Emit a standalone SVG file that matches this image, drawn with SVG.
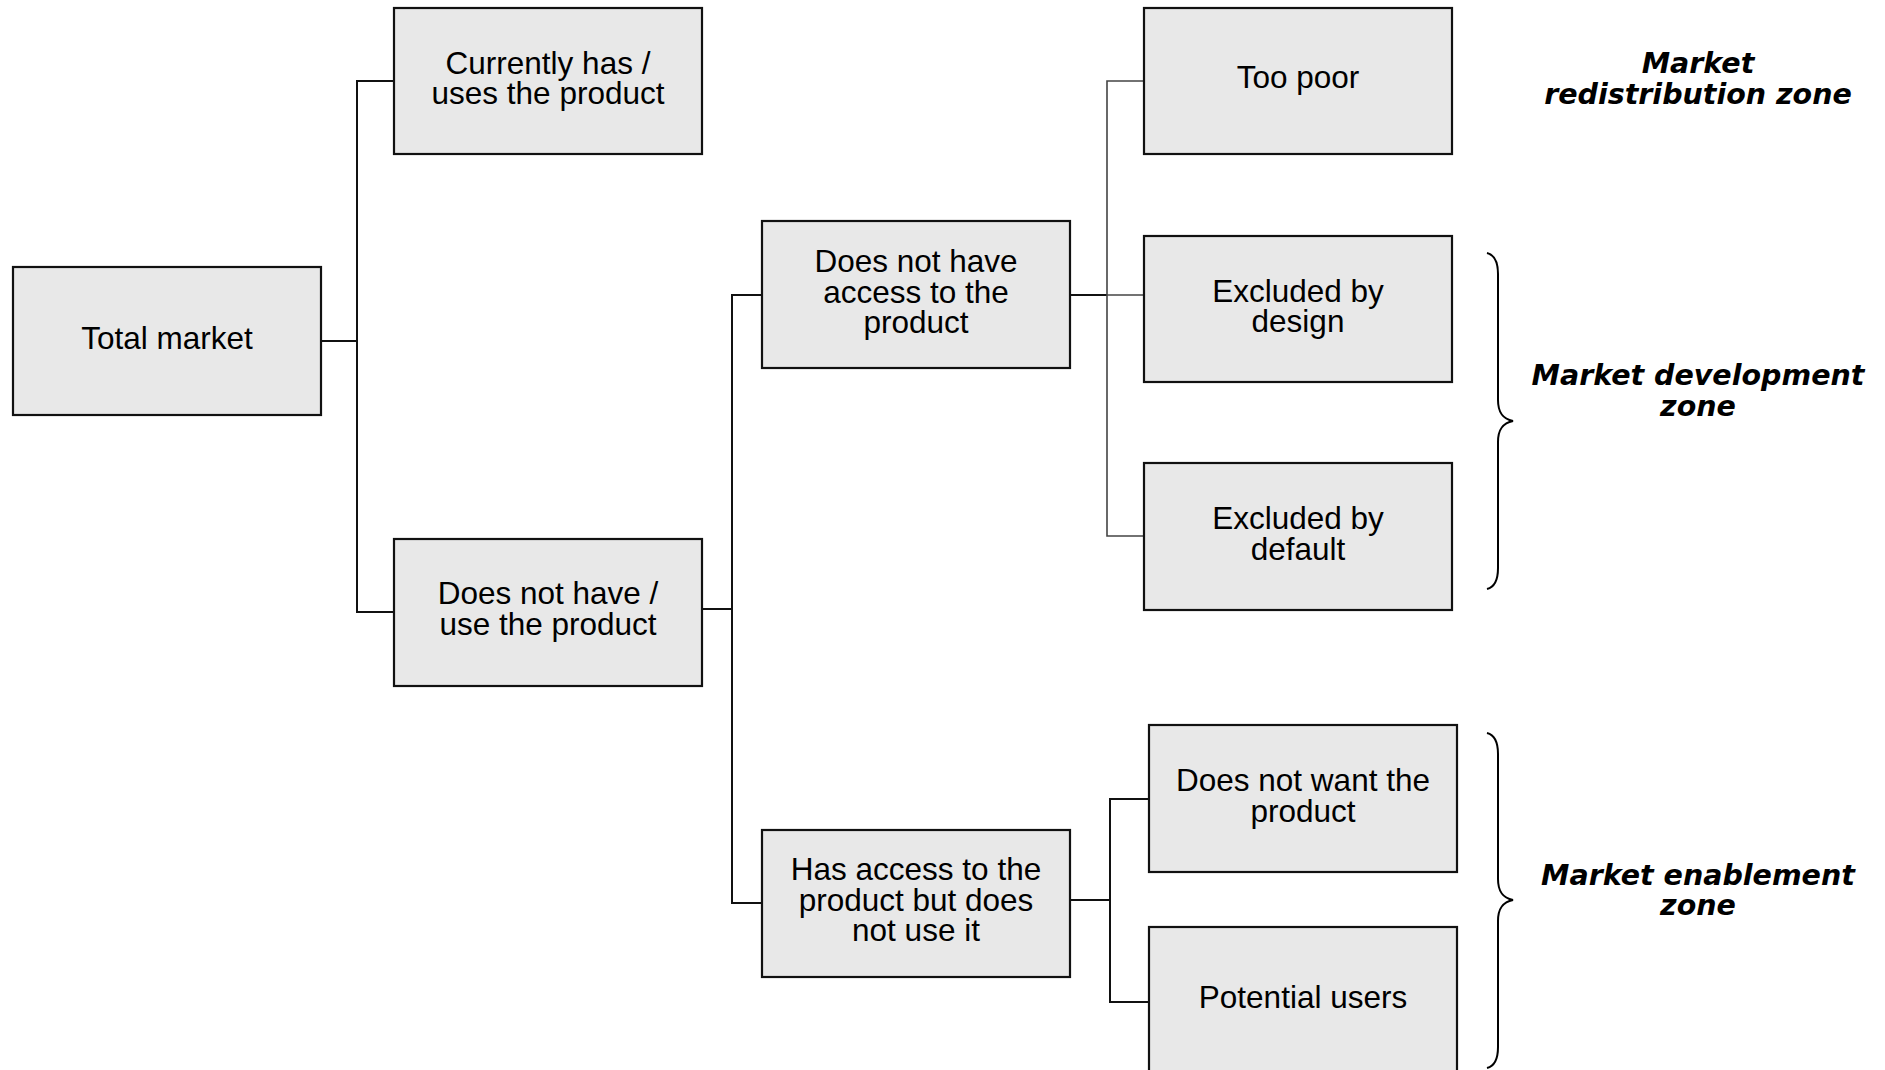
<svg xmlns="http://www.w3.org/2000/svg" width="1885" height="1070" viewBox="0 0 1885 1070">
<style>
.box{fill:#e8e8e8;stroke:#111;stroke-width:2.2}
.t{font-family:"Liberation Sans",Arial,sans-serif;font-size:31.5px;fill:#000;text-anchor:middle}
.z{font-family:"DejaVu Sans",Verdana,sans-serif;font-size:28.5px;font-weight:bold;font-style:italic;fill:#000;text-anchor:middle}
.c{fill:none;stroke:#111;stroke-width:2}
.cg{fill:none;stroke:#444;stroke-width:1.6}
.br{fill:none;stroke:#000;stroke-width:2}
</style>
<rect width="1885" height="1070" fill="#fff"/>
<g id="connectors">
<polyline class="c" points="321,341 357,341"/>
<polyline class="c" points="394,81 357,81 357,612 394,612"/>
<polyline class="c" points="702,609 732,609"/>
<polyline class="c" points="762,295 732,295 732,903 762,903"/>
<polyline class="c" points="1070,295 1107,295"/>
<polyline class="cg" points="1144,81 1107,81 1107,536 1144,536"/>
<polyline class="cg" points="1107,295 1144,295"/>
<polyline class="c" points="1070,900 1110,900"/>
<polyline class="c" points="1149,799 1110,799 1110,1002 1149,1002"/>
</g>
<g id="n-total"><rect class="box" x="13" y="267" width="308" height="148"/><text class="t" x="167" y="349">Total market</text></g>
<g id="n-has"><rect class="box" x="394" y="8" width="308" height="146"/><text class="t" x="548" y="74">Currently has /</text><text class="t" x="548" y="104">uses the product</text></g>
<g id="n-hasnot"><rect class="box" x="394" y="539" width="308" height="147"/><text class="t" x="548" y="604">Does not have /</text><text class="t" x="548" y="635">use the product</text></g>
<g id="n-noaccess"><rect class="box" x="762" y="221" width="308" height="147"/><text class="t" x="916" y="272">Does not have</text><text class="t" x="916" y="303">access to the</text><text class="t" x="916" y="333">product</text></g>
<g id="n-access"><rect class="box" x="762" y="830" width="308" height="147"/><text class="t" x="916" y="880">Has access to the</text><text class="t" x="916" y="911">product but does</text><text class="t" x="916" y="941">not use it</text></g>
<g id="n-poor"><rect class="box" x="1144" y="8" width="308" height="146"/><text class="t" x="1298" y="88">Too poor</text></g>
<g id="n-design"><rect class="box" x="1144" y="236" width="308" height="146"/><text class="t" x="1298" y="302">Excluded by</text><text class="t" x="1298" y="332">design</text></g>
<g id="n-default"><rect class="box" x="1144" y="463" width="308" height="147"/><text class="t" x="1298" y="529">Excluded by</text><text class="t" x="1298" y="560">default</text></g>
<g id="n-nowant"><rect class="box" x="1149" y="725" width="308" height="147"/><text class="t" x="1303" y="791">Does not want the</text><text class="t" x="1303" y="822">product</text></g>
<g id="n-potential"><rect class="box" x="1149" y="927" width="308" height="150"/><text class="t" x="1303" y="1008">Potential users</text></g>
<g id="braces">
<path class="br" d="M1487,253 C1495,255 1498,262 1498,274 L1498,400 C1498,413 1503,419 1513,421 C1503,423 1498,429 1498,442 L1498,568 C1498,580 1495,587 1487,589"/>
<path class="br" d="M1487,733 C1495,735 1498,742 1498,754 L1498,879 C1498,892 1503,898 1513,900 C1503,902 1498,908 1498,921 L1498,1047 C1498,1059 1495,1066 1487,1068"/>
</g>
<g id="zones">
<text class="z" x="1698" y="73">Market</text><text class="z" x="1698" y="104">redistribution zone</text>
<text class="z" x="1698" y="385">Market development</text><text class="z" x="1698" y="416">zone</text>
<text class="z" x="1698" y="885">Market enablement</text><text class="z" x="1698" y="915">zone</text>
</g>
</svg>
